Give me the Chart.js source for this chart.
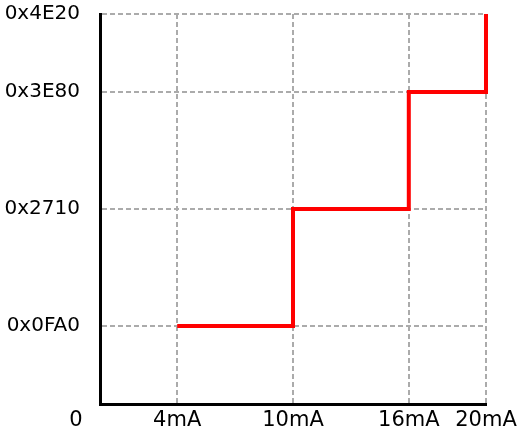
<!DOCTYPE html>
<html>
<head>
<meta charset="utf-8">
<script src="https://cdn.jsdelivr.net/npm/chart.js@4.4.1/dist/chart.umd.min.js"></script>
<style>
  html, body { margin: 0; padding: 0; background: #fff; }
  #wrap { width: 520px; height: 442px; }
</style>
</head>
<body>
<div id="wrap"><canvas id="graph" width="520" height="442"></canvas></div>
<script>
// step points: current (mA) -> DAC code
var currents = [4, 10, 16, 20];
var codes = [0x0FA0, 0x2710, 0x3E80, 0x4E20];

var xTicks = [0, 4, 10, 16, 20];
var xLabels = ['', '4mA', '10mA', '16mA', '20mA'];
var yTicks = [0x0FA0, 0x2710, 0x3E80, 0x4E20];
var yLabels = ['0x0FA0', '0x2710', '0x3E80', '0x4E20'];
var originLabel = '0';

var FONT_Y = { family: 'DejaVu Sans', size: 20 };
var FONT_X = { family: 'DejaVu Sans', size: 21 };
var GRID = '#ababab';

var points = [];
for (var i = 0; i < currents.length; i++) {
    points.push({ x: currents[i], y: codes[i] });
}

// "0" at the corner, left of the origin
var originPlugin = {
    id: 'origin',
    afterDraw: function (chart) {
        var c = chart.ctx;
        var xs = chart.scales.x;
        c.save();
        c.font = FONT_X.size + 'px ' + FONT_X.family;
        c.fillStyle = '#000';
        c.textAlign = 'center';
        c.textBaseline = 'top';
        c.fillText(originLabel, xs.getPixelForValue(0) - 24, chart.chartArea.bottom + 6);
        c.restore();
    }
};

var ctx = document.getElementById('graph').getContext('2d');
var graph = new Chart(ctx, {
    type: 'line',
    data: {
        datasets: [{
            data: points,
            stepped: 'before',
            borderColor: '#ff0000',
            borderWidth: 4,
            pointRadius: 0,
            fill: false,
            clip: false
        }]
    },
    options: {
        responsive: false,
        animation: false,
        layout: { padding: { top: 14, right: 34, left: 0, bottom: 0 } },
        plugins: { legend: { display: false }, tooltip: { enabled: false } },
        scales: {
            x: {
                type: 'linear',
                min: 0,
                max: 20,
                afterBuildTicks: function (s) {
                    s.ticks = xTicks.map(function (v) { return { value: v }; });
                },
                afterFit: function (s) {
                    s.height = 38;
                    s.paddingLeft = 0;
                    s.paddingRight = 0;
                },
                ticks: {
                    color: '#000',
                    font: FONT_X,
                    padding: 4,
                    maxRotation: 0,
                    autoSkip: false,
                    callback: function (v) { return xLabels[xTicks.indexOf(v)]; }
                },
                grid: {
                    drawTicks: false,
                    color: function (c) { return c.tick && c.tick.value === 0 ? 'rgba(0,0,0,0)' : GRID; },
                    lineWidth: 2
                },
                border: { display: true, color: '#000', width: 3, dash: [5, 3] }
            },
            y: {
                type: 'linear',
                min: 0,
                max: 0x4E20,
                afterBuildTicks: function (s) {
                    s.ticks = yTicks.map(function (v) { return { value: v }; });
                },
                afterFit: function (s) {
                    s.width = 100;
                    s.paddingTop = 0;
                    s.paddingBottom = 0;
                },
                ticks: {
                    color: '#000',
                    font: FONT_Y,
                    padding: 20,
                    autoSkip: false,
                    callback: function (v) { return yLabels[yTicks.indexOf(v)]; }
                },
                grid: {
                    drawTicks: false,
                    color: GRID,
                    lineWidth: 2
                },
                border: { display: true, color: '#000', width: 3, dash: [5, 3] }
            }
        }
    },
    plugins: [originPlugin]
});
</script>
</body>
</html>
